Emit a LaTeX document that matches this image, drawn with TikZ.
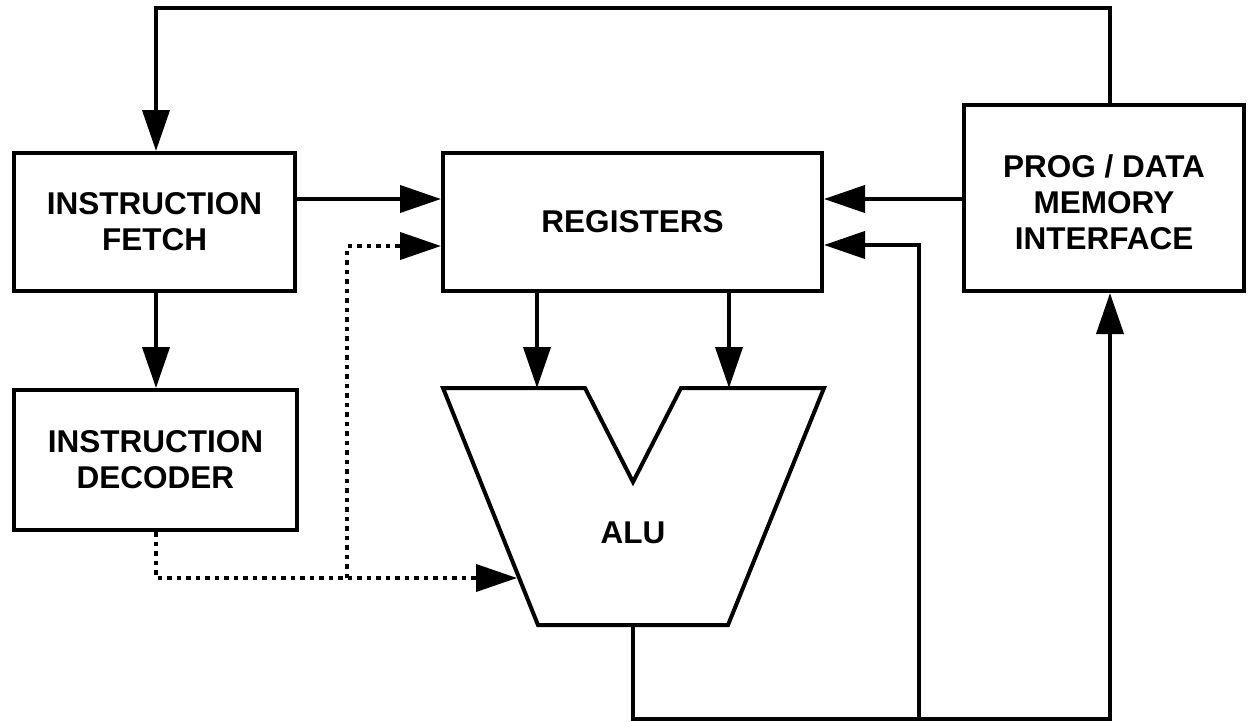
\documentclass[tikz,border=0pt]{standalone}
\usepackage{fontspec}
\setmainfont{Liberation Sans}
\usetikzlibrary{arrows.meta,calc}
\begin{document}
\begin{tikzpicture}[x=1pt,y=-1pt,
  txt/.style={align=center,inner sep=0pt,font=\fontsize{31.5}{36}\selectfont\bfseries},
  box/.style={txt,draw,line width=4pt,rectangle},
  wire/.style={line width=4pt},
  conn/.style={wire,-{Triangle[length=41pt,width=27pt]}},
  dots/.style={line width=4pt,dash pattern=on 4.5pt off 5pt}]
\useasboundingbox (0,0) rectangle (1248,721);

% blocks
\node[box,minimum width=281pt,minimum height=138pt] (fetch) at (154.5,222) {INSTRUCTION\\FETCH};
\node[box,minimum width=283pt,minimum height=140pt] (dec) at (155.5,460) {INSTRUCTION\\DECODER};
\node[box,minimum width=379pt,minimum height=138pt] (regs) at (632.5,222) {REGISTERS};
\node[box,minimum width=280pt,minimum height=186pt] (mem) at (1104,198) {};
\node[txt] (memtxt) at (1104,202) {PROG / DATA\\MEMORY\\INTERFACE};

% ALU shape
\coordinate (a1) at (443,388);
\coordinate (a2) at (585,388);
\coordinate (a3) at (633,482);
\coordinate (a4) at (681,388);
\coordinate (a5) at (824,388);
\coordinate (a6) at (728,625);
\coordinate (a7) at (538,625);
\draw[wire] (a1) -- (a2) -- (a3) -- (a4) -- (a5) -- (a6) -- (a7) -- cycle;
\node[txt] (alu) at (633,533) {ALU};

% helper points
\coordinate (tr) at (1110,8);
\coordinate (tl) at (156,8);
\coordinate (y1) at (0,199);
\coordinate (in1) at (537,388);
\coordinate (in2) at (729,388);
\coordinate (d1) at (156,578);
\coordinate (dend) at (517,578);
\coordinate (dj) at (347,578);
\coordinate (dup) at (347,246);
\coordinate (aout) at (633,625);
\coordinate (o1) at (633,719);
\coordinate (o2) at (1110,719);
\coordinate (bj) at (919,719);
\coordinate (bup) at (919,245);

% connectors
\draw[conn] (mem.north -| tr) -- (tr) -- (tl) -- (tl |- fetch.north);
\draw[conn] (fetch.east |- y1) -- (regs.west |- y1);
\draw[conn] (mem.west |- y1) -- (regs.east |- y1);
\draw[conn] (fetch.south -| tl) -- (dec.north -| tl);
\draw[conn] (regs.south -| in1) -- (in1);
\draw[conn] (regs.south -| in2) -- (in2);
\draw[dots,-{Triangle[length=41pt,width=27pt]}] (dec.south -| d1) -- (d1) -- (dend);
\draw[dots,-{Triangle[length=41pt,width=27pt]}] (dj) -- (dup) -- (regs.west |- dup);
\draw[conn] (aout) -- (o1) -- (o2) -- (mem.south -| o2);
\draw[conn] (bj) -- (bup) -- (regs.east |- bup);
\end{tikzpicture}
\end{document}
